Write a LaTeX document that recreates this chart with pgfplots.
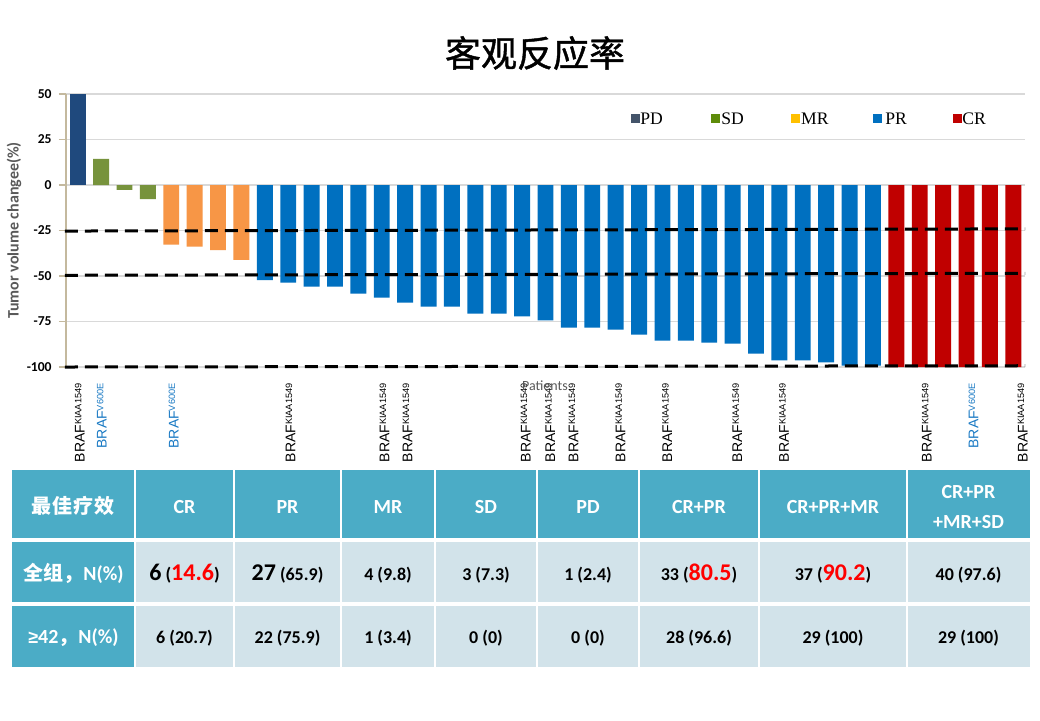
\documentclass[border=0pt]{standalone}
\usepackage{fontspec}
\usepackage{pgfplots}
\pgfplotsset{compat=1.18}
\setmainfont{Carlito}
\newfontfamily\cjk{Noto Sans CJK SC}
\newfontfamily\cjktitle[FakeBold=1.2]{Noto Sans CJK SC}
\newfontfamily\arialf{Liberation Sans}
\newfontfamily\timesf{Liberation Serif}

\definecolor{pdbar}{HTML}{1F497D}
\definecolor{sdbar}{HTML}{77933C}
\definecolor{mrbar}{HTML}{F79646}
\definecolor{prbar}{HTML}{0070C0}
\definecolor{crbar}{HTML}{C00000}
\definecolor{pdleg}{HTML}{44546A}
\definecolor{sdleg}{HTML}{5E8C0A}
\definecolor{mrleg}{HTML}{FFC000}
\definecolor{axistan}{HTML}{C4B99E}
\definecolor{gridgray}{HTML}{D9D9D9}
\definecolor{hdrteal}{HTML}{4BACC6}
\definecolor{lightcell}{HTML}{D2E3EA}
\definecolor{numred}{HTML}{FF0000}
\definecolor{labgray}{HTML}{595959}
\definecolor{v600}{HTML}{1A7AC4}

% superscripts of the mutation labels
\newcommand\supx[1]{\raisebox{1.7pt}{\fontsize{4.6pt}{5pt}\selectfont #1}}
\newcommand\kiaa{BRAF\supx{KIAA1549}}
\newcommand\vsix{\textcolor{v600}{BRAF\supx{V600E}}}
\newcommand\bignum[1]{{\fontsize{12pt}{12pt}\selectfont #1}}
\newcommand\rednum[1]{{\color{numred}\fontsize{12pt}{12pt}\selectfont #1}}

\begin{document}
\begin{tikzpicture}
\begin{scope}[x=0.5pt,y=-0.5pt]
  \useasboundingbox (0,0) rectangle (1040,720);
  \fill[white] (0,0) rectangle (1040,720);
\end{scope}

\begin{axis}[
  at={(33pt,-183.5pt)}, anchor=south west,
  scale only axis, width=479.5pt, height=136.5pt,
  xmin=-0.5, xmax=40.5, ymin=-100, ymax=50,
  clip=false,
  axis lines*=left,
  x axis line style={draw=none},
  y axis line style={draw=axistan, line width=0.7pt, -},
  ytick={-100,-75,-50,-25,0,25,50},
  yticklabels={-100,-75,-50,-25,0,25,50},
  ymajorgrids,
  grid style={draw=gridgray, line width=0.6pt},
  tick align=outside,
  major tick length=3.5pt,
  ytick style={draw=axistan, line width=0.7pt},
  yticklabel style={font=\bfseries\fontsize{6.8pt}{8pt}\selectfont, text=black, inner sep=0pt, xshift=-3.5pt},
  xtick={0.09,1.03,4.10,9.10,13.12,14.1,19.15,20.2,21.2,23.2,25.2,28.2,30.2,36.3,38.3,40.4},
  xticklabels={\kiaa,\vsix,\vsix,\kiaa,\kiaa,\kiaa,\kiaa,\kiaa,\kiaa,\kiaa,\kiaa,\kiaa,\kiaa,\kiaa,\vsix,\kiaa},
  xtick style={draw=none},
  xticklabel shift=4.5pt,
  xticklabel style={rotate=90, anchor=east, inner sep=0pt, font=\arialf\fontsize{7pt}{8pt}\selectfont},
  ylabel={Tumor volume changee(\%)},
  ylabel style={at={(axis description cs:-0.0542,0.5)}, anchor=center, font=\bfseries\fontsize{8pt}{9pt}\selectfont, text=labgray},
]
% PD
\addplot[ybar, bar width=0.68, bar shift=0pt, fill=pdbar, draw=none] coordinates {(0,50)};
% SD
\addplot[ybar, bar width=0.68, bar shift=0pt, fill=sdbar, draw=none] coordinates {(1,14.4) (2,-2.7) (3,-7.7)};
% MR
\addplot[ybar, bar width=0.68, bar shift=0pt, fill=mrbar, draw=none] coordinates {(4,-32.8) (5,-33.9) (6,-35.8) (7,-41.2)};
% PR
\addplot[ybar, bar width=0.68, bar shift=0pt, fill=prbar, draw=none] coordinates {
  (8,-52.2) (9,-53.6) (10,-55.8) (11,-55.8) (12,-59.7) (13,-61.9) (14,-64.6)
  (15,-66.8) (16,-66.8) (17,-70.6) (18,-70.6) (19,-72.2) (20,-74.4) (21,-78.3)
  (22,-78.3) (23,-79.4) (24,-82.2) (25,-85.5) (26,-85.5) (27,-86.6) (28,-87.1)
  (29,-92.6) (30,-96.3) (31,-96.3) (32,-97.4) (33,-99.2) (34,-99.2)};
% CR
\addplot[ybar, bar width=0.68, bar shift=0pt, fill=crbar, draw=none] coordinates {
  (35,-100) (36,-100) (37,-100) (38,-100) (39,-100) (40,-100)};
% threshold lines
\addplot[black, line width=1.5pt, dash pattern=on 6.5pt off 3.5pt] coordinates {(-0.55,-25.3) (40.5,-24.1)};
\addplot[black, line width=1.5pt, dash pattern=on 6.5pt off 3.5pt] coordinates {(-0.55,-49.6) (40.5,-48.5)};
\addplot[black, line width=1.5pt, dash pattern=on 6.5pt off 3.5pt] coordinates {(-0.55,-100) (40.5,-99.3)};
\end{axis}

\begin{scope}[x=0.5pt,y=-0.5pt]
  % title
  \node[font=\cjktitle\fontsize{18pt}{19pt}\selectfont] at (535,53) {客观反应率};
  % legend
  \foreach \sx/\tx/\col/\lab in {631/640/pdleg/PD, 711/721/sdleg/SD, 791/800.7/mrleg/MR, 873/885/prbar/PR, 953/962/crbar/CR}{
    \fill[\col] (\sx,114) rectangle ++(9,9);
    \node[anchor=base west, inner sep=0pt, font=\timesf\fontsize{8.8pt}{10pt}\selectfont] at (\tx,124) {\lab};
  }
  % x axis title
  \node[inner sep=0pt, text=labgray, font=\fontsize{7pt}{8pt}\selectfont] at (545,386) {Patients};
  % table
  \fill[hdrteal] (12,470) rectangle (1030,538);
  \fill[hdrteal] (12,542) rectangle (135,602);
  \fill[lightcell] (135,542) rectangle (1030,602);
  \fill[hdrteal] (12,606) rectangle (135,667);
  \fill[lightcell] (135,606) rectangle (1030,667);
  \foreach \c in {135,234,341,435,537,639,759,907}
    \draw[white, line width=1pt] (\c,468) -- (\c,669);
  \begin{scope}[every node/.style={inner sep=0pt, anchor=base, font=\bfseries\fontsize{10pt}{12pt}\selectfont}]
    \node[text=white, anchor=center, font=\cjk\bfseries\fontsize{10pt}{12pt}\selectfont] at (73.5,506)
      {最\hspace{0.5pt}佳\hspace{0.5pt}疗\hspace{0.5pt}效};
    \foreach \x/\t in {184.5/CR, 287.5/PR, 388/MR, 486/SD, 588/PD, 699/CR+PR, 833/CR+PR+MR}
      \node[text=white] at (\x,513) {\t};
    \node[text=white] at (968.5,498) {CR+PR};
    \node[text=white] at (968.5,528) {+MR+SD};
    \node[text=white] at (73.5,580) {{\cjk 全组，}N(\%)};
    \node[text=white] at (73.5,643) {{\arialf\fontsize{9pt}{11pt}\selectfont ≥}42{\cjk ，}N(\%)};
  \end{scope}
  \begin{scope}[every node/.style={inner sep=0pt, anchor=base, text=black, font=\bfseries\fontsize{9pt}{11pt}\selectfont}]
    \foreach \x/\t in {184.5/{\bignum{6} (\rednum{14.6})}, 287.5/{\bignum{27} (65.9)}, 388/{4 (9.8)},
                       486/{3 (7.3)}, 588/{1 (2.4)}, 699/{33 (\rednum{80.5})}, 833/{37 (\rednum{90.2})}, 968.5/{40 (97.6)}}
      \node at (\x,580) {\t};
    \foreach \x/\t in {184.5/{6 (20.7)}, 287.5/{22 (75.9)}, 388/{1 (3.4)}, 486/{0 (0)},
                       588/{0 (0)}, 699/{28 (96.6)}, 833/{29 (100)}, 968.5/{29 (100)}}
      \node at (\x,643) {\t};
  \end{scope}
\end{scope}
\end{tikzpicture}
\end{document}
